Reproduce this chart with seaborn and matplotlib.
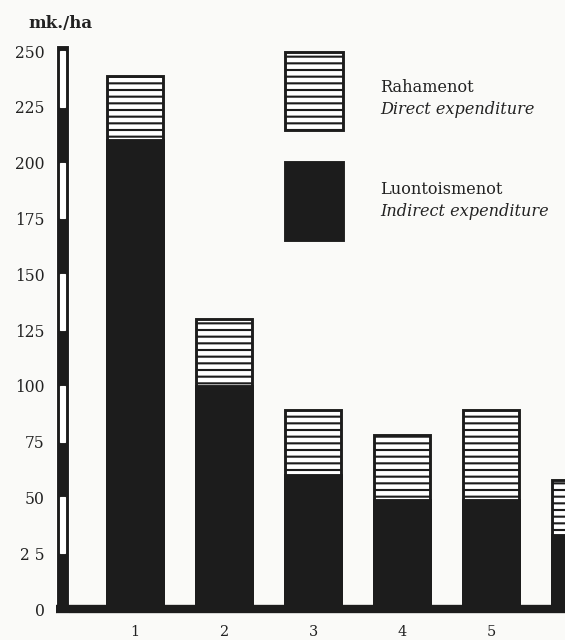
import matplotlib
matplotlib.use("Agg")
import matplotlib.pyplot as plt
from matplotlib.patches import Rectangle
import seaborn as sns

# values in mk./ha
groups = ["1", "2", "3", "4", "5", "6"]
indirect = [210, 100, 60, 49, 49, 33]    # Luontoismenot
direct = [29, 30, 29, 29, 40, 25]        # Rahamenot
totals = [a + b for a, b in zip(indirect, direct)]
y_ticks = [0, 25, 50, 75, 100, 125, 150, 175, 200, 225, 250]
y_tick_labels = ["0", "2 5", "50", "75", "100", "125", "150", "175", "200", "225", "250"]

INK = "#1c1c1c"
PAPER = "#fafaf8"
DPI = 80
W, H = 565, 640

sns.set_theme(style="white")
plt.rcParams["font.family"] = ["DejaVu Serif"]
plt.rcParams["hatch.color"] = INK
plt.rcParams["hatch.linewidth"] = 1.9


def fx(px):
    return px / W


def fy(py):
    return 1 - py / H


fig = plt.figure(figsize=(W / DPI, H / DPI), dpi=DPI, facecolor=PAPER)
ax = fig.add_axes([fx(50), fy(614), fx(515), 614 / H])
ax.set_facecolor(PAPER)

# hatched part = whole bar, dark part drawn over it
sns.barplot(x=groups, y=totals, order=groups, ax=ax, color="white", saturation=1,
            edgecolor=INK, linewidth=2.6, hatch="--", width=0.62, errorbar=None, zorder=2)
sns.barplot(x=groups, y=indirect, order=groups, ax=ax, color=INK, saturation=1,
            edgecolor=INK, linewidth=2.6, width=0.62, errorbar=None, zorder=3)

# y axis drawn as the black/white striped bar
axis_x = -0.82
ax.bar(axis_x, y_ticks[-1] + 4.5, bottom=-2, width=0.146, color=INK, zorder=4)
for lo, hi in zip(y_ticks[1::2], y_ticks[2::2]):
    ax.bar(axis_x, hi - lo, bottom=lo, width=0.056, color="white", zorder=5)

# baseline
ax.hlines(0, axis_x - 0.073, 6, color=INK, linewidth=7.5, zorder=4, clip_on=False)

ax.set_xlim(-0.955, 4.831)
ax.set_ylim(-2.24, 272.85)
ax.set_yticks(y_ticks)
ax.set_yticklabels(y_tick_labels)
ax.tick_params(axis="y", length=0, pad=5, labelsize=14, labelcolor="#222222")
ax.tick_params(axis="x", length=0, pad=10, labelsize=13, labelcolor="#222222")
ax.set_xlabel("")
ax.set_ylabel("")
for s in ax.spines.values():
    s.set_visible(False)

fig.text(fx(28), fy(23), "mk./ha", fontsize=15, fontweight="bold",
         color="#222222", ha="left", va="center")

# legend boxes and labels
box_w, box_h = 58, 78
fig.add_artist(Rectangle((fx(285), fy(130)), fx(box_w), box_h / H,
                         transform=fig.transFigure, facecolor="white",
                         edgecolor=INK, linewidth=2.6, hatch="--"))
fig.add_artist(Rectangle((fx(285), fy(240)), fx(box_w), box_h / H,
                         transform=fig.transFigure, facecolor=INK,
                         edgecolor=INK, linewidth=2.6))

fig.text(fx(380), fy(88), "Rahamenot", fontsize=14.5, color="#222222", va="center")
fig.text(fx(380), fy(110), "Direct expenditure", fontsize=14.5, style="italic",
         color="#222222", va="center")
fig.text(fx(380), fy(190), "Luontoismenot", fontsize=14.5, color="#222222", va="center")
fig.text(fx(380), fy(212), "Indirect expenditure", fontsize=14.5, style="italic",
         color="#222222", va="center")

fig.savefig("out.png", dpi=DPI, facecolor=PAPER)
